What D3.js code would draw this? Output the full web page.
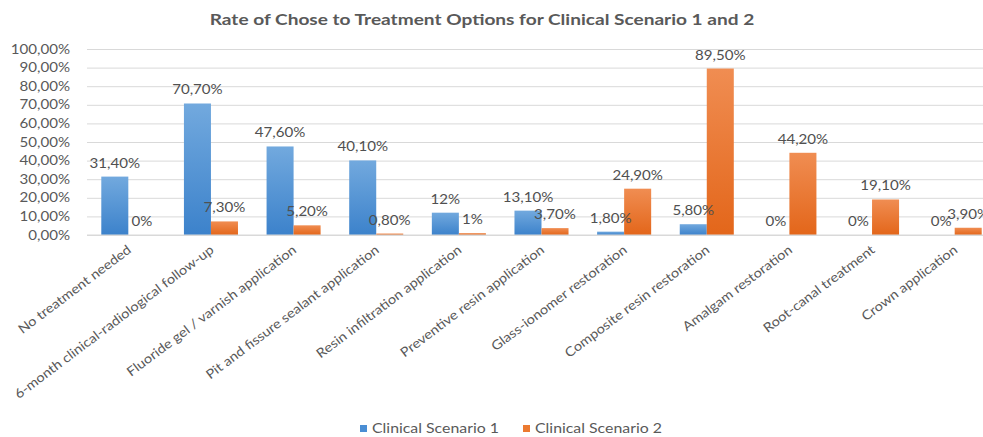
<!DOCTYPE html>
<html>
<head>
<meta charset="utf-8">
<script src="https://cdn.jsdelivr.net/npm/d3@7"></script>
<style>
  html, body { margin: 0; padding: 0; background: #fff; }
  svg { display: block; font-family: Lato, "Open Sans", sans-serif; }
</style>
</head>
<body>
<div id="chart"></div>
<script>
// chart data
const categories = [
    "No treatment needed",
    "6-month clinical-radiological follow-up",
    "Fluoride gel / varnish application",
    "Pit and fissure sealant application",
    "Resin infiltration application",
    "Preventive resin application",
    "Glass-ionomer restoration",
    "Composite resin restoration",
    "Amalgam restoration",
    "Root-canal treatment",
    "Crown application"
];
const seriesNames = ["Clinical Scenario 1", "Clinical Scenario 2"];
const scenario1 = [31.4, 70.7, 47.6, 40.1, 12, 13.1, 1.8, 5.8, 0, 0, 0];
const scenario2 = [0, 7.3, 5.2, 0.8, 1, 3.7, 24.9, 89.5, 44.2, 19.1, 3.9];
const scenario1Labels = ["31,40%", "70,70%", "47,60%", "40,10%", "12%", "13,10%", "1,80%", "5,80%", "0%", "0%", "0%"];
const scenario2Labels = ["0%", "7,30%", "5,20%", "0,80%", "1%", "3,70%", "24,90%", "89,50%", "44,20%", "19,10%", "3,90%"];
const yTicks = [0, 10, 20, 30, 40, 50, 60, 70, 80, 90, 100];
const yTickLabels = ["0,00%", "10,00%", "20,00%", "30,00%", "40,00%", "50,00%", "60,00%", "70,00%", "80,00%", "90,00%", "100,00%"];

const width = 983, height = 437;
const plot = { left: 87, right: 996, top: 49, bottom: 235 };
const textColor = "#595959";

const svg = d3.select("#chart").append("svg")
    .attr("width", width)
    .attr("height", height);

// gradients for the Excel-like bars
const defs = svg.append("defs");
const grads = [
    { id: "gBlue", top: "#72a9de", bottom: "#3c82cb" },
    { id: "gOrange", top: "#f08d52", bottom: "#e3661a" }
];
grads.forEach(g => {
    const lg = defs.append("linearGradient")
        .attr("id", g.id)
        .attr("x1", 0).attr("y1", 0).attr("x2", 0).attr("y2", 1);
    lg.append("stop").attr("offset", "0%").attr("stop-color", g.top);
    lg.append("stop").attr("offset", "100%").attr("stop-color", g.bottom);
});
const fills = ["url(#gBlue)", "url(#gOrange)"];
const legendColors = ["#4a8ed4", "#ec7a30"];

// scales
const x0 = d3.scaleBand()
    .domain(categories)
    .range([plot.left, plot.right])
    .paddingInner(0.346)
    .paddingOuter(0.173);
const x1 = d3.scaleBand()
    .domain([0, 1])
    .range([0, x0.bandwidth()]);
const y = d3.scaleLinear()
    .domain([0, 100])
    .range([plot.bottom, plot.top]);

// title
svg.append("text")
    .classed("title", true)
    .attr("x", 482)
    .attr("y", 25)
    .attr("text-anchor", "middle")
    .style("font-size", "15.5px")
    .style("font-weight", "bold")
    .style("fill", textColor)
    .text("Rate of Chose to Treatment Options for Clinical Scenario 1 and 2");

// y axis with gridlines
const yAxis = svg.append("g")
    .attr("transform", `translate(${plot.left},0)`)
    .call(d3.axisLeft(y)
        .tickValues(yTicks)
        .tickSize(-(width - plot.left))
        .tickPadding(17)
        .tickFormat((d, i) => yTickLabels[i]));
yAxis.select(".domain").remove();
yAxis.selectAll(".tick line").attr("stroke", "#d9d9d9");
yAxis.selectAll(".tick text")
    .style("font-size", "13px")
    .style("fill", textColor)
    .style("font-family", "Lato, sans-serif");

// bars
const rows = categories.map((c, i) => ({
    category: c,
    values: [
        { s: 0, v: scenario1[i], label: scenario1Labels[i] },
        { s: 1, v: scenario2[i], label: scenario2Labels[i] }
    ]
}));

const groups = svg.append("g").selectAll("g")
    .data(rows)
    .join("g")
    .attr("transform", d => `translate(${x0(d.category)},0)`);

groups.selectAll("rect")
    .data(d => d.values)
    .join("rect")
    .attr("x", d => x1(d.s))
    .attr("y", d => y(d.v))
    .attr("width", x1.bandwidth())
    .attr("height", d => y(0) - y(d.v))
    .attr("fill", d => fills[d.s]);

// data labels
groups.selectAll("text")
    .data(d => d.values)
    .join("text")
    .attr("x", d => x1(d.s) + x1.bandwidth() / 2)
    .attr("y", d => y(d.v) - 9)
    .attr("text-anchor", "middle")
    .style("font-size", "13px")
    .style("fill", "#505050")
    .text(d => d.label);

// zero line
svg.append("line")
    .attr("x1", plot.left).attr("x2", width)
    .attr("y1", y(0)).attr("y2", y(0))
    .attr("stroke", "#d9d9d9");

// category labels, rotated
svg.append("g").selectAll("text")
    .data(categories)
    .join("text")
    .classed("cat-label", true)
    .attr("transform", d => `translate(${x0(d) + x0.bandwidth() / 2 + 1},${plot.bottom + 13}) rotate(-37)`)
    .attr("text-anchor", "end")
    .attr("dy", "0.35em")
    .style("font-size", "13px")
    .style("fill", textColor)
    .text(d => d);

// legend
const legendX = [360, 523];
const legend = svg.append("g").selectAll("g")
    .data(seriesNames)
    .join("g")
    .attr("transform", (d, i) => `translate(${legendX[i]},425)`);
legend.append("rect")
    .attr("width", 7).attr("height", 7)
    .attr("fill", (d, i) => legendColors[i]);
legend.append("text")
    .classed("legend-text", true)
    .attr("x", 12)
    .attr("y", 8)
    .style("font-size", "13px")
    .style("fill", textColor)
    .text(d => d);

// the source text is wide (stretched Calibri look), widen glyphs a bit
svg.selectAll("text").each(function () {
    const el = d3.select(this);
    let k = 1.16;
    if (el.classed("title")) k = 1.23;
    if (el.classed("legend-text")) k = 1.22;
    if (el.classed("cat-label")) k = 1.12;
    const len = this.getComputedTextLength();
    el.attr("textLength", len * k).attr("lengthAdjust", "spacingAndGlyphs");
});
</script>
</body>
</html>
